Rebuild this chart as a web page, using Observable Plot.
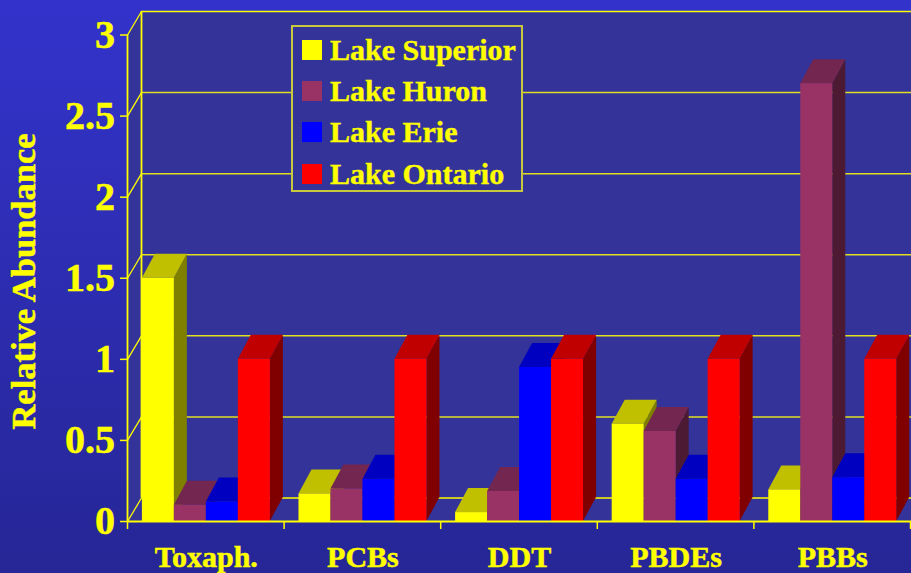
<!DOCTYPE html>
<html><head><meta charset="utf-8">
<script src="https://cdn.jsdelivr.net/npm/d3@7"></script>
<script src="https://cdn.jsdelivr.net/npm/@observablehq/plot@0.6"></script>
<style>
html,body{margin:0;padding:0;width:911px;height:573px;overflow:hidden}
body{background:linear-gradient(180deg,#3333cc 0%,#262696 100%);position:relative;font-family:"Liberation Serif",serif;font-weight:bold}
svg.plot,figure{margin:0;background:transparent!important}
svg text{stroke:#ffff00;stroke-width:.5px}
#legend{position:absolute;left:291px;top:25px;width:228px;height:163px;background:#333399;border:2px solid #c8c83c;}
#legend .sw{position:absolute;left:9px;width:20px;height:20px}
#legend .lb{position:absolute;left:37px;color:#ffff00;font-size:30px;line-height:30px;white-space:nowrap;-webkit-text-stroke:.4px #ffff00}
</style></head><body>
<div id="chart"></div><div id="legend"></div>
<script>
const categories=["Toxaph.","PCBs","DDT","PBDEs","PBBs"];
const lakes=["Lake Superior","Lake Huron","Lake Erie","Lake Ontario"];
const superior=[1.50,0.17,0.055,0.60,0.195];
const huron=[0.10,0.20,0.185,0.555,2.70];
const erie=[0.12,0.26,0.95,0.26,0.27];
const ontario=[1,1,1,1,1];
const yTicks=[0,0.5,1,1.5,2,2.5,3];
const front=["#ffff00","#993366","#0000ff","#ff0000"];
const topFace=["#c0c000","#732650","#0000c0","#c00000"];
const sideFace=["#808000","#4d1a33","#000080","#800000"];
const series=[superior,huron,erie,ontario];

const wallDx=0.0894,wallDy=0.145,barDx=0.083,barDy=0.148;
const barW=0.2043,barStart=0.095,xEnd=5.2;
const quad=(a,b,fill)=>Plot.area([0,1],{x1:i=>a[i][0],y1:i=>a[i][1],x2:i=>b[i][0],y2:i=>b[i][1],fill:()=>fill});
const ink="#ffff00",grid="#e0e020";
const walls=[
  Plot.rect([0],{x1:wallDx,x2:xEnd+1,y1:wallDy,y2:3+wallDy,fill:"#333399"}),
  quad([[0,0],[wallDx,wallDy]],[[0,3],[wallDx,3+wallDy]],"#333399"),
  quad([[0,0],[wallDx,wallDy]],[[xEnd,0],[xEnd+wallDx,wallDy]],"#333399"),
  Plot.ruleY(yTicks,{y:d=>d+wallDy,x1:wallDx,x2:xEnd+1,stroke:d=>d===3||d===0?ink:grid,strokeWidth:1.5}),
  Plot.link(yTicks,{x1:0,y1:d=>d,x2:wallDx,y2:d=>d+wallDy,stroke:ink,strokeWidth:1.3}),
  Plot.ruleX([wallDx],{y1:wallDy,y2:3+wallDy,stroke:ink,strokeWidth:1.8}),
  Plot.ruleX([0],{y1:0,y2:3,stroke:ink,strokeWidth:1.8})
];
const bars=categories.flatMap((c,i)=>series.flatMap((s,j)=>{
  const v=s[i],a=i+barStart+j*barW,b=a+barW;
  return [
    quad([[b,v],[b+barDx,v+barDy]],[[b,0],[b+barDx,barDy]],sideFace[j]),
    quad([[a,v],[a+barDx,v+barDy]],[[b,v],[b+barDx,v+barDy]],topFace[j]),
    Plot.rect([v],{x1:a,x2:b,y1:0,y2:d=>d,fill:front[j]})
  ];
}));
const plot=Plot.plot({
  width:911,height:573,marginLeft:127,marginRight:0,marginTop:11,marginBottom:52,
  style:{background:"transparent",fontFamily:"'Liberation Serif',serif",fontWeight:"bold"},
  x:{type:"linear",domain:[0,xEnd],range:[127,127+xEnd*156.6]},
  y:{domain:[0,3+wallDy],range:[521,11]},
  marks:[
    ...walls,...bars,
    Plot.ruleY([0],{x1:0,x2:xEnd+1,stroke:ink,strokeWidth:1.8}),
    Plot.axisY({ticks:yTicks,tickFormat:d=>String(d),tickSize:7,tickPadding:5.5,stroke:ink,fill:ink,fontSize:40,label:null,strokeWidth:1.5}),
    Plot.axisX({ticks:[0,1,2,3,4,5],tickSize:8,stroke:ink,tickFormat:()=>"",label:null,strokeWidth:1.5}),
    Plot.text(categories,{x:(d,i)=>i+0.5,y:0,dy:36,dx:0.5,text:d=>d,fill:ink,fontSize:30}),
    Plot.text(["Relative Abundance"],{frameAnchor:"left",dx:-104,y:()=>1.48,rotate:-90,textAnchor:"middle",fill:ink,fontSize:34.5})
  ]
});
document.getElementById("chart").appendChild(plot);
const leg=document.getElementById("legend");
const rowY=[13,54,95,137];
lakes.forEach((n,i)=>{
  const s=document.createElement("div");s.className="sw";s.style.top=rowY[i]+"px";s.style.background=front[i];leg.appendChild(s);
  const t=document.createElement("div");t.className="lb";t.style.top=(rowY[i]-5)+"px";t.textContent=n;leg.appendChild(t);
});
</script></body></html>
